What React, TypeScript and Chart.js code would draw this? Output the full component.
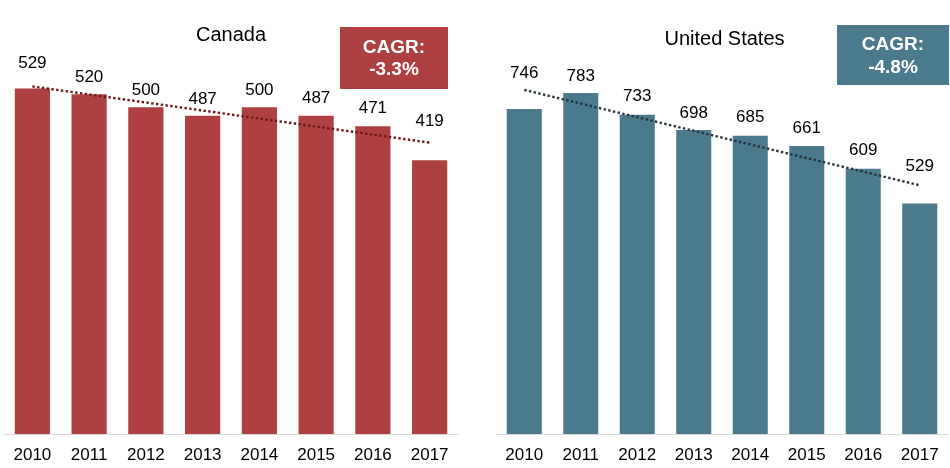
import React, { useEffect, useRef } from "react";
import { Chart, registerables } from "chart.js";

Chart.register(...registerables);

const years = ["2010", "2011", "2012", "2013", "2014", "2015", "2016", "2017"];
const canadaValues = [529, 520, 500, 487, 500, 487, 471, 419];
const usValues = [746, 783, 733, 698, 685, 661, 609, 529];
// trend line end points (first and last year)
const canadaTrend = [532, 446];
const usTrend = [790, 571];
const canadaCagr = "-3.3%";
const usCagr = "-4.8%";
const canadaMax = 600;
const usMax = 900;

const FONT = "'Liberation Sans', Arial, Helvetica, sans-serif";

type PanelProps = {
  title: string;
  labels: string[];
  values: number[];
  trend: number[];
  cagr: string;
  yMax: number;
  color: string;
  trendColor: string;
  left: number;
  width: number;
  padLeft: number;
  padRight: number;
  titleX: number;
  titleY: number;
  box: { x: number; y: number; w: number; h: number; l1: number; l2: number };
  labelLift: number[];
};

function Panel(p: PanelProps) {
  const ref = useRef<HTMLCanvasElement | null>(null);
  useEffect(() => {
    if (!ref.current) return;
    const trendData = p.labels.map((_, i) =>
      i === 0 ? p.trend[0] : i === p.labels.length - 1 ? p.trend[1] : null
    );
    const overlay = {
      id: "overlay" + p.title.replace(/\s/g, ""),
      afterDatasetsDraw(chart: any) {
        const ctx = chart.ctx;
        ctx.save();
        // data labels
        const meta = chart.getDatasetMeta(0);
        ctx.fillStyle = "#000";
        ctx.font = `17px ${FONT}`;
        ctx.textAlign = "center";
        ctx.textBaseline = "middle";
        meta.data.forEach((el: any, i: number) => {
          ctx.fillText(String(p.values[i]), el.x, el.y - p.labelLift[i]);
        });
        // title
        ctx.font = `20px ${FONT}`;
        ctx.fillText(p.title, p.titleX, p.titleY);
        // CAGR box
        const b = p.box;
        ctx.fillStyle = p.color;
        ctx.fillRect(b.x, b.y, b.w, b.h);
        ctx.fillStyle = "#fff";
        ctx.font = `bold 19px ${FONT}`;
        ctx.fillText("CAGR:", b.x + b.w / 2, b.l1);
        ctx.fillText(p.cagr, b.x + b.w / 2, b.l2);
        ctx.restore();
      },
    };
    const chart = new Chart(ref.current, {
      type: "bar",
      data: {
        labels: p.labels,
        datasets: [
          {
            type: "bar",
            data: p.values,
            backgroundColor: p.color,
            barPercentage: 0.62,
            categoryPercentage: 1,
            order: 1,
          } as any,
          {
            type: "line",
            data: trendData,
            spanGaps: true,
            borderColor: p.trendColor,
            borderWidth: 2.4,
            borderDash: [2.4, 2.4],
            pointRadius: 0,
            fill: false,
            order: 0,
          } as any,
        ],
      },
      options: {
        responsive: false,
        animation: false,
        layout: { padding: { left: p.padLeft, right: p.padRight, top: 42, bottom: 0 } },
        plugins: {
          legend: { display: false },
          tooltip: { enabled: false },
          title: { display: false },
        },
        scales: {
          x: {
            grid: { display: false, drawTicks: false },
            border: { display: true, color: "#d9d9d9", width: 1 },
            ticks: { color: "#000", font: { size: 17, family: FONT }, padding: 11, maxRotation: 0 },
            afterFit: (s: any) => {
              s.height = 34;
            },
          },
          y: {
            display: false,
            min: 0,
            max: p.yMax,
          },
        },
      },
      plugins: [overlay],
    });
    return () => chart.destroy();
  }, []);
  return (
    <canvas
      ref={ref}
      width={p.width}
      height={468}
      style={{ position: "absolute", left: p.left, top: 0, width: p.width, height: 468, display: "block" }}
    />
  );
}

export default function App() {
  return (
    <div style={{ position: "absolute", left: 0, top: 0, width: 950, height: 468, background: "#fff" }}>
      <Panel
        title="Canada"
        labels={years}
        values={canadaValues}
        trend={canadaTrend}
        cagr={canadaCagr}
        yMax={canadaMax}
        color="#AF4042"
        trendColor="#6e1818"
        left={0}
        width={470}
        padLeft={4}
        padRight={12}
        titleX={231}
        titleY={35}
        box={{ x: 340, y: 27, w: 108, h: 62, l1: 48, l2: 70 }}
        labelLift={[25, 17, 17, 17, 17, 18, 18, 39]}
      />
      <Panel
        title="United States"
        labels={years}
        values={usValues}
        trend={usTrend}
        cagr={usCagr}
        yMax={usMax}
        color="#4A7A8C"
        trendColor="#26343e"
        left={475}
        width={475}
        padLeft={21}
        padRight={2}
        titleX={249.5}
        titleY={39}
        box={{ x: 362, y: 25, w: 112, h: 60, l1: 45, l2: 68 }}
        labelLift={[36, 17, 18, 17, 18, 18, 18, 37]}
      />
    </div>
  );
}
